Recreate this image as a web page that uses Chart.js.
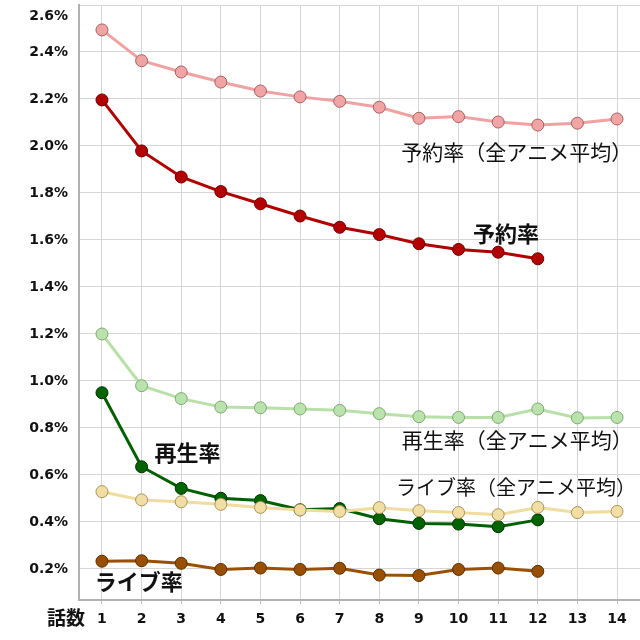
<!DOCTYPE html>
<html><head><meta charset="utf-8">
<script src="https://cdn.jsdelivr.net/npm/chart.js@4.4.1/dist/chart.umd.min.js"></script>
<style>html,body{margin:0;padding:0;background:#fff}#wrap{width:640px;height:640px}</style>
</head><body><div id="wrap"><canvas id="c" width="640" height="640"></canvas></div>
<script>
const episodes = [1,2,3,4,5,6,7,8,9,10,11,12,13,14];
const yTicks = [0.2,0.4,0.6,0.8,1.0,1.2,1.4,1.6,1.8,2.0,2.2,2.4,2.6];
const reserveAvg = [2.494,2.363,2.315,2.272,2.234,2.209,2.190,2.165,2.118,2.125,2.102,2.089,2.097,2.115];
const reserve = [2.196,1.979,1.868,1.806,1.754,1.702,1.654,1.623,1.584,1.560,1.548,1.520];
const playAvg = [1.200,0.980,0.925,0.889,0.886,0.881,0.875,0.861,0.848,0.845,0.845,0.881,0.843,0.845];
const play = [0.950,0.635,0.543,0.501,0.491,0.452,0.457,0.414,0.394,0.391,0.380,0.409];
const liveAvg = [0.529,0.494,0.486,0.475,0.462,0.451,0.445,0.461,0.448,0.440,0.431,0.462,0.440,0.445];
const live = [0.233,0.235,0.224,0.198,0.204,0.198,0.203,0.174,0.172,0.198,0.204,0.190];
const labels = [
  {text:'予約率（全アニメ平均）', x:11.47, y:1.974, bold:false, size:21},
  {text:'予約率', x:11.2, y:1.628, bold:true, size:22},
  {text:'再生率', x:3.16, y:0.694, bold:true, size:22},
  {text:'再生率（全アニメ平均）', x:11.48, y:0.749, bold:false, size:21},
  {text:'ライブ率（全アニメ平均）', x:11.45, y:0.549, bold:false, size:20},
  {text:'ライブ率', x:1.93, y:0.145, bold:true, size:22}
];
const xTitle = '話数';

function pts(arr){ return arr.map((v,i)=>({x:episodes[i], y:v})); }
function ds(arr, line, fill, border){
  return {data:pts(arr), borderColor:line, backgroundColor:fill, pointBackgroundColor:fill,
    pointBorderColor:border, pointBorderWidth:1, pointRadius:6, borderWidth:3, tension:0};
}
const annot = {
  id:'annot',
  afterDraw(chart){
    const ctx = chart.ctx, xs = chart.scales.x, ys = chart.scales.y;
    ctx.save();
    ctx.textAlign='center'; ctx.textBaseline='middle';
    labels.forEach(l=>{
      ctx.font = (l.bold?'bold ':'') + l.size + 'px "Noto Sans CJK JP"';
      ctx.fillStyle = '#111';
      ctx.fillText(l.text, xs.getPixelForValue(l.x), ys.getPixelForValue(l.y));
    });
    ctx.font = 'bold 14px "DejaVu Sans"';
    ctx.textAlign='right';
    yTicks.forEach(t=>{
      let py = Math.max(ys.getPixelForValue(t), 16);
      ctx.fillText(t.toFixed(1)+'%', 68, py);
    });
    ctx.font = 'bold 19px "Noto Sans CJK JP"';
    ctx.textAlign='center';
    ctx.fillText(xTitle, 66, 618);
    ctx.restore();
  }
};
new Chart(document.getElementById('c'), {
  type:'line',
  data:{datasets:[
    ds(liveAvg,'#f0dc9c','#f1dea4','#a89458'),
    ds(playAvg,'#b8e0a8','#b9e2ac','#7fa872'),
    ds(reserveAvg,'#f0a2a2','#f0a4a4','#a86060'),
    ds(live,'#9a5000','#985000','#5a2e00'),
    ds(play,'#006000','#006400','#002e00'),
    ds(reserve,'#b00000','#b40000','#6a0000')
  ]},
  options:{
    responsive:false, animation:false, devicePixelRatio:1,
    layout:{autoPadding:false, padding:{top:5,right:0,left:0,bottom:0}},
    plugins:{legend:{display:false}, tooltip:{enabled:false}},
    scales:{
      x:{type:'linear', min:0.42, max:14.58,
        afterBuildTicks(s){ s.ticks = episodes.map(v=>({value:v})); },
        afterFit(s){ s.height = 40; },
        grid:{color:'#d6d6d6', lineWidth:1, tickLength:4, tickColor:'#c0c0c0', drawOnChartArea:true},
        border:{color:'#b0b0b0', width:2},
        ticks:{color:'#111', font:{family:'DejaVu Sans', weight:'bold', size:14}, padding:7,
          callback:v=>String(v), maxRotation:0, autoSkip:false}
      },
      y:{type:'linear', min:0.068, max:2.6,
        afterBuildTicks(s){ s.ticks = yTicks.map(v=>({value:v})); },
        afterFit(s){ s.width = 79; },
        grid:{color:'#d6d6d6', lineWidth:1, drawTicks:false},
        border:{color:'#b0b0b0', width:2},
        ticks:{display:false}
      }
    }
  },
  plugins:[annot]
});
</script></body></html>
